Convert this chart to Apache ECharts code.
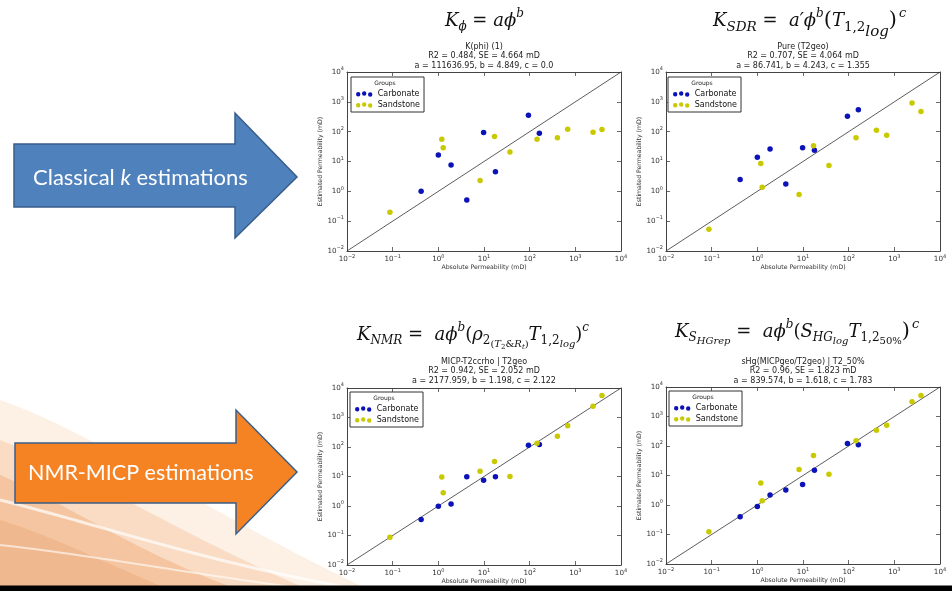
<!DOCTYPE html>
<html><head><meta charset="utf-8">
<script src="https://cdn.jsdelivr.net/npm/echarts@6/dist/echarts.min.js"></script>
<style>html,body{margin:0;padding:0;background:#fff}#c{width:952px;height:596px}</style>
</head><body><div id="c"></div>
<script>
// ---- data ----
const groups = ['Carbonate', 'Sandstone'];
const xCarb = [0.42, 1.0, 1.9, 4.2, 9.8, 17.8, 94, 163];
const xSand = [0.087, 1.19, 1.28, 8.2, 17, 37, 145, 405, 680, 2440, 3830];
const yCarbKphi = [1.0, 16.6, 7.6, 0.51, 93, 4.5, 356, 89];
const ySandKphi = [0.2, 56, 29, 2.3, 69, 21, 56, 62, 121, 96, 118];
const yCarbSDR = [2.5, 13.8, 26, 1.75, 29, 24, 330, 540];
const ySandSDR = [0.054, 8.5, 1.38, 0.79, 34, 7.4, 63, 112, 76, 910, 475];
const yCarbNMR = [0.35, 0.98, 1.17, 9.8, 7.4, 9.8, 115, 122];
const ySandNMR = [0.088, 9.6, 2.8, 15, 32, 10, 135, 230, 530, 2400, 5600];
const yCarbSHG = [0.40, 0.89, 2.2, 3.2, 5.0, 15, 122, 110];
const ySandSHG = [0.125, 5.6, 1.4, 16, 48, 11, 150, 345, 510, 3160, 5200];
const oneToOne = [[0.01, 0.01], [10000, 10000]];
const axisMin = 0.01, axisMax = 10000;
const tickValues = [0.01, 0.1, 1, 10, 100, 1000, 10000];
const xName = 'Absolute Permeability (mD)';
const yName = 'Estimated Permeability (mD)';
const titles = [
  ['K(phi) (1)', 'R2 = 0.484, SE = 4.664 mD', 'a = 111636.95, b = 4.849, c = 0.0'],
  ['Pure (T2geo)', 'R2 = 0.707, SE = 4.064 mD', 'a = 86.741, b = 4.243, c = 1.355'],
  ['MICP-T2ccrho | T2geo', 'R2 = 0.942, SE = 2.052 mD', 'a = 2177.959, b = 1.198, c = 2.122'],
  ['sHg(MICPgeo/T2geo) | T2_50%', 'R2 = 0.96, SE = 1.823 mD', 'a = 839.574, b = 1.618, c = 1.783']
];
const arrowLabels = ['Classical {it|k} estimations', 'NMR-MICP estimations'];
const panelY = [[yCarbKphi, ySandKphi], [yCarbSDR, ySandSDR], [yCarbNMR, ySandNMR], [yCarbSHG, ySandSHG]];

// ---- layout ----
const grids = [
  {left: 347, top: 72, width: 274, height: 179},
  {left: 666, top: 72, width: 274, height: 179},
  {left: 347, top: 388, width: 274, height: 177},
  {left: 666, top: 387, width: 274, height: 177}
];
const legendPos = [[351, 77], [668, 77], [350, 392], [669, 391]];
const titleTop = [42, 42, 357, 357];
const colors = ['#0a12b8', '#c9c900'];
const dotIcon = 'path://M0.3,3a2.2,2.2 0 1,0 4.4,0a2.2,2.2 0 1,0 -4.4,0ZM6.3,2.2a2.2,2.2 0 1,0 4.4,0a2.2,2.2 0 1,0 -4.4,0ZM12.3,3.3a2.2,2.2 0 1,0 4.4,0a2.2,2.2 0 1,0 -4.4,0Z';

function expLabel(v) {
  const e = Math.round(Math.log10(v));
  return '{b|10}{s|' + (e < 0 ? '\u2212' + (-e) : e) + '}';
}
const labelRich = {
  b: {fontSize: 7.2, fontFamily: 'DejaVu Sans', color: '#333', lineHeight: 11, verticalAlign: 'middle'},
  s: {fontSize: 5, fontFamily: 'DejaVu Sans', color: '#333', lineHeight: 5, verticalAlign: 'top'}
};
function axis(gi, pos, main) {
  const isX = pos === 'bottom' || pos === 'top';
  const a = {
    type: 'log', logBase: 10, min: axisMin, max: axisMax, splitNumber: 6,
    gridIndex: gi, position: pos,
    axisLine: {show: true, onZero: false, lineStyle: {color: '#444', width: 1}},
    axisTick: {show: true, inside: true, length: 4, lineStyle: {color: '#444', width: 0.8}},
    splitLine: {show: false},
    axisLabel: {show: main, margin: 3, formatter: expLabel, rich: labelRich}
  };
  if (main) {
    a.name = isX ? xName : yName;
    a.nameLocation = 'middle';
    a.nameGap = isX ? 13 : 20;
    a.nameTextStyle = {fontSize: 6.2, fontFamily: 'DejaVu Sans', color: '#333'};
  }
  return a;
}

const xAxes = [], yAxes = [], series = [], legends = [];
grids.forEach((g, i) => {
  xAxes.push(axis(i, 'bottom', true), axis(i, 'top', false));
  yAxes.push(axis(i, 'left', true), axis(i, 'right', false));
  series.push({
    type: 'line', xAxisIndex: 2 * i, yAxisIndex: 2 * i, data: oneToOne, symbol: 'none',
    lineStyle: {color: '#333', width: 0.8}, silent: true, z: 1
  });
  [xCarb, xSand].forEach((xs, k) => {
    series.push({
      type: 'scatter', name: groups[k], xAxisIndex: 2 * i, yAxisIndex: 2 * i,
      data: xs.map((x, j) => [x, panelY[i][k][j]]),
      symbolSize: 5.5, itemStyle: {color: colors[k], opacity: 1}, z: 3
    });
  });
  legends.push({
    data: groups, orient: 'vertical', left: legendPos[i][0], top: legendPos[i][1],
    padding: [13, 4, 3, 5], itemGap: 3, itemWidth: 17, itemHeight: 5.5, icon: dotIcon,
    textStyle: {fontSize: 8, fontFamily: 'DejaVu Sans', color: '#111'},
    borderColor: '#333', borderWidth: 1, backgroundColor: '#fff', selectedMode: false
  });
});

// ---- formulas (rich text; tokens top-aligned and shifted down by a top padding) ----
const fF = 'DejaVu Serif';
function st(size, italic, centre, padL) {
  const top = Math.max(0, centre - size / 2);
  return {fontSize: size, fontFamily: fF, fontStyle: italic ? 'italic' : 'normal', fill: '#111',
          verticalAlign: 'top', padding: [top, 0, 0, padL || 0]};
}
const fRich = {
  i: st(18, true, 15), n: st(18, false, 15), np: st(21, false, 15),
  sup: st(12, true, 8), sup2: st(13, true, 8, 2),
  sub: st(12, true, 21), subn: st(12, false, 21),
  ss: st(10, true, 24.5), ssn: st(10, false, 24.5),
  sss: st(7, true, 27), sssn: st(7, false, 27),
  sub2: st(13.5, true, 21), subn2: st(13.5, false, 21), ss2: st(15, true, 26)
};
const formulas = [
  {x: 445, y: 21, t: '{i|K}{sub|\u03D5}{n| = }{i|a\u03D5}{sup|b}'},
  {x: 713, y: 21, t: '{i|K}{sub2|SDR}{n| =  }{i|a\u2032\u03D5}{sup|b}{np|(}{i|T}{subn2|1,2}{ss2|log}{np|)}{sup2|c}'},
  {x: 357, y: 335, t: '{i|K}{sub|NMR}{n| =  }{i|a\u03D5}{sup|b}{n|(}{i|\u03C1}{subn|2}{ssn|(}{ss|T}{sssn|2}{ssn|&}{ss|R}{sss|t}{ssn|)}{i|T}{subn|1,2}{ss|log}{n|)}{sup|c}'},
  {x: 675, y: 332, t: '{i|K}{sub|S}{ss|HGrep}{n| =  }{i|a\u03D5}{sup|b}{n|(}{i|S}{sub|HG}{ss|log}{i|T}{subn|1,2}{ssn|50%}{np|)}{sup2|c}'}
];

// sample a cubic bezier into points (decoration only)
function bez(p0, p1, p2, p3, n) {
  const pts = [];
  for (let k = 0; k <= n; k++) {
    const t = k / n, u = 1 - t;
    pts.push([u*u*u*p0[0] + 3*u*u*t*p1[0] + 3*u*t*t*p2[0] + t*t*t*p3[0],
              u*u*u*p0[1] + 3*u*u*t*p1[1] + 3*u*t*t*p2[1] + t*t*t*p3[1]]);
  }
  return pts;
}
function swoosh(p0, p1, p2, p3, fill, z, op) {
  const pts = bez(p0, p1, p2, p3, 30).concat([[0, 590]]);
  return {type: 'polygon', z: z, silent: true, shape: {points: pts}, style: {fill: fill, opacity: op}};
}
function streak(p0, p1, p2, p3, w, op) {
  return {type: 'polyline', z: -6, silent: true, shape: {points: bez(p0, p1, p2, p3, 30)}, style: {fill: null, stroke: '#fff', lineWidth: w, opacity: op}};
}

const graphics = [];
graphics.push(
  swoosh([0, 400], [90, 430], [220, 520], [370, 590], '#fdf0e4', -10, 1),
  swoosh([0, 440], [80, 470], [190, 540], [310, 590], '#f9dcc3', -9, 1),
  swoosh([0, 475], [60, 500], [140, 555], [240, 590], '#f4c5a0', -8, 1),
  swoosh([0, 520], [50, 535], [110, 565], [170, 590], '#efb58b', -7, 0.85),
  streak([0, 500], [100, 525], [200, 560], [340, 586], 3, 0.7),
  streak([0, 545], [90, 555], [180, 572], [300, 588], 2, 0.6),
  {type: 'rect', z: 20, silent: true, shape: {x: 0, y: 585.5, width: 952, height: 5.5}, style: {fill: '#000'}}
);
graphics.push(
  {type: 'polygon', z: 5, shape: {points: [[14, 144], [235, 144], [235, 113], [297, 177], [235, 238], [235, 207], [14, 207]]},
   style: {fill: '#4f81bd', stroke: '#385d8a', lineWidth: 1.5}},
  {type: 'text', z: 6, x: 33, y: 178, style: {text: arrowLabels[0], fill: '#fff', font: '22px Lato', verticalAlign: 'middle',
   rich: {it: {fontStyle: 'italic', fontSize: 22, fontFamily: 'Lato', fill: '#fff'}}}},
  {type: 'polygon', z: 5, shape: {points: [[15, 443], [236, 443], [236, 410], [297, 472], [236, 534], [236, 503], [15, 503]]},
   style: {fill: '#f58323', stroke: '#3a5f8a', lineWidth: 1.5}},
  {type: 'text', z: 6, x: 28, y: 473, style: {text: arrowLabels[1], fill: '#fff', font: '21.5px Lato', verticalAlign: 'middle'}}
);
formulas.forEach(f => graphics.push({type: 'text', z: 6, x: f.x, y: f.y - 15, style: {text: f.t, rich: fRich, verticalAlign: 'top', fill: '#111'}}));
grids.forEach((g, i) => {
  graphics.push({type: 'text', z: 6, x: g.left + g.width / 2, y: titleTop[i],
    style: {text: titles[i].join('\n'), font: '8px "DejaVu Sans"', lineHeight: 9.5, align: 'center', verticalAlign: 'top', fill: '#222'}});
  graphics.push({type: 'text', z: 30, x: legendPos[i][0] + 34, y: legendPos[i][1] + 6.5,
    style: {text: 'Groups', font: '6px "DejaVu Sans"', align: 'center', verticalAlign: 'middle', fill: '#222'}});
});

const chart = echarts.init(document.getElementById('c'), null, {renderer: 'canvas'});
chart.setOption({
  animation: false,
  backgroundColor: '#fff',
  grid: grids.map(g => Object.assign({containLabel: false}, g)),
  xAxis: xAxes, yAxis: yAxes, series: series, legend: legends, graphic: graphics
});
</script></body></html>
